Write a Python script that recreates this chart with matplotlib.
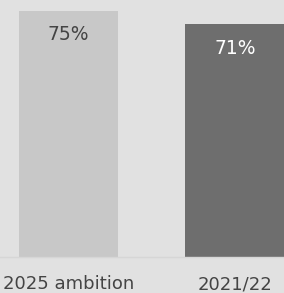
import matplotlib
matplotlib.use("Agg")
import matplotlib.pyplot as plt
from matplotlib.transforms import offset_copy

categories = ["2025 ambition", "2021/22"]
values = [75, 71]
labels = ["75%", "71%"]
bar_colors = ["#c8c8c8", "#6e6e6e"]
text_colors = ["#444444", "#ffffff"]

W, H = 284, 293
fig = plt.figure(figsize=(W / 100, H / 100), dpi=100)
fig.patch.set_facecolor("#e1e1e1")
ax = fig.add_axes([0, (H - 257) / H, 1, 257 / H])
ax.set_facecolor("#e1e1e1")

x = list(range(len(categories)))
ax.bar(x, values, width=0.595, color=bar_colors, zorder=2)
ax.set_xlim(-0.411, 1.294)
ax.set_ylim(0, 78.35)

for xi, v, lab, tc in zip(x, values, labels, text_colors):
    tr = offset_copy(ax.transData, fig=fig, x=0, y=-24 * 0.72, units="points")
    ax.text(xi, v, lab, transform=tr, ha="center", va="center",
            fontsize=13.5, color=tc, family="DejaVu Sans", zorder=3)

ax.set_xticks(x)
ax.set_xticklabels(categories, fontsize=13, color="#444444", family="DejaVu Sans")
ax.tick_params(axis="x", length=0, pad=13)
ax.set_yticks([])
for s in ["top", "right", "left"]:
    ax.spines[s].set_visible(False)
ax.spines["bottom"].set_color("#d6d6d6")
ax.spines["bottom"].set_linewidth(1.0)

fig.savefig("out.png", dpi=100, facecolor=fig.get_facecolor())
